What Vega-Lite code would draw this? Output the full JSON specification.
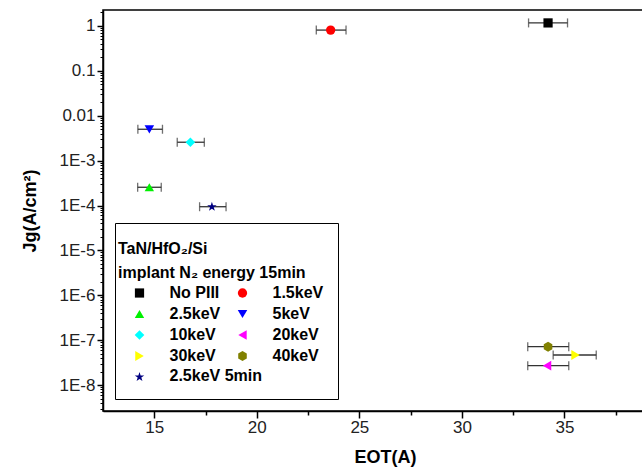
{
  "$schema": "https://vega.github.io/schema/vega-lite/v6.json",
  "width": 564,
  "height": 401,
  "autosize": {"type": "none"},
  "padding": {"left": 103, "top": 10, "right": 0, "bottom": 58},
  "background": "white",
  "title": {
    "text": ["TaN/HfO₂/Si", "implant N₂ energy 15min"],
    "orient": "top", "anchor": "start", "frame": "group", "align": "left", "baseline": "top",
    "offset": 0, "dx": 15, "dy": 271, "lineHeight": 24,
    "font": "Liberation Sans", "fontSize": 16, "fontWeight": "bold", "color": "black", "zindex": 1
  },
  "config": {
    "font": "Liberation Sans",
    "view": {"stroke": "black", "strokeWidth": 1.5},
    "axis": {"grid": false},
    "legend": {
      "orient": "none", "direction": "horizontal",
      "labelFontSize": 16, "labelFontWeight": "bold", "labelColor": "black",
      "titleFontSize": 16, "titleFontWeight": "bold", "titleColor": "black",
      "titleOrient": "top", "titleAnchor": "start",
      "titleLineHeight": 24, "titleLimit": 400, "titleBaseline": "line-top"
    }
  },
  "data": {
    "values": [
      {"series": "No PIII", "EOT": 34.2, "lo": 33.25, "hi": 35.15, "Jg": 1.17},
      {"series": "1.5keV", "EOT": 23.6, "lo": 22.9, "hi": 24.35, "Jg": 0.81},
      {"series": "2.5keV", "EOT": 14.76, "lo": 14.19, "hi": 15.34, "Jg": 0.000255},
      {"series": "5keV", "EOT": 14.76, "lo": 14.2, "hi": 15.4, "Jg": 0.0050},
      {"series": "10keV", "EOT": 16.76, "lo": 16.12, "hi": 17.44, "Jg": 0.00257},
      {"series": "20keV", "EOT": 34.15, "lo": 33.21, "hi": 35.21, "Jg": 2.7e-8},
      {"series": "30keV", "EOT": 35.54, "lo": 34.45, "hi": 36.55, "Jg": 4.67e-8},
      {"series": "40keV", "EOT": 34.2, "lo": 33.21, "hi": 35.21, "Jg": 7.15e-8},
      {"series": "2.5keV 5min", "EOT": 17.81, "lo": 17.21, "hi": 18.5, "Jg": 9.4e-5}
    ]
  },
  "layer": [
    {
      "mark": {"type": "rule", "color": "#333333", "strokeWidth": 1.3},
      "encoding": {
        "x": {
          "field": "lo", "type": "quantitative",
          "scale": {"domain": [12.5, 40], "nice": false, "zero": false},
          "axis": {
            "orient": "bottom", "values": [15, 20, 25, 30, 35],
            "title": "EOT(A)", "titleFontSize": 18, "titleFontWeight": "bold", "titleColor": "black", "titlePadding": 13,
            "labelFontSize": 17, "labelColor": "#222222", "labelPadding": 1, "labelFlush": false,
            "tickSize": 7, "tickWidth": 1.5, "tickColor": "black",
            "domainColor": "black", "domainWidth": 1.5
          }
        },
        "x2": {"field": "hi"},
        "y": {
          "field": "Jg", "type": "quantitative",
          "scale": {"type": "log", "domain": [2.64e-9, 2.27], "nice": false},
          "axis": {
            "orient": "left", "values": [1, 0.1, 0.01, 0.001, 0.0001, 1e-5, 1e-6, 1e-7, 1e-8],
            "labelExpr": "datum.value >= 0.005 ? (datum.value >= 0.5 ? '1' : (datum.value >= 0.05 ? '0.1' : '0.01')) : '1E-' + round(-log(datum.value)/LN10)",
            "title": "Jg(A/cm²)", "titleFontSize": 18, "titleFontWeight": "bold", "titleColor": "black", "titlePadding": 20,
            "labelFontSize": 17, "labelColor": "#222222", "labelPadding": 2, "labelFlush": false,
            "tickSize": 6, "tickWidth": 1.5, "tickColor": "black",
            "domainColor": "black", "domainWidth": 1.5
          }
        }
      }
    },
    {
      "mark": {"type": "tick", "orient": "vertical", "color": "#333333", "thickness": 1.3, "size": 9},
      "encoding": {
        "x": {"field": "lo", "type": "quantitative", "axis": null},
        "y": {"field": "Jg", "type": "quantitative", "axis": null}
      }
    },
    {
      "mark": {"type": "tick", "orient": "vertical", "color": "#333333", "thickness": 1.3, "size": 9},
      "encoding": {
        "x": {"field": "hi", "type": "quantitative", "axis": null},
        "y": {"field": "Jg", "type": "quantitative", "axis": null}
      }
    },
    {
      "mark": {"type": "point", "filled": true, "opacity": 1, "strokeWidth": 0},
      "encoding": {
        "x": {"field": "EOT", "type": "quantitative", "axis": null},
        "y": {"field": "Jg", "type": "quantitative", "axis": null},
        "color": {
          "field": "series", "type": "nominal",
          "scale": {
            "domain": ["No PIII", "1.5keV", "2.5keV", "5keV", "10keV", "20keV", "30keV", "40keV", "2.5keV 5min"],
            "range": ["#000000", "#FF0000", "#00F000", "#0000FF", "#00FFFF", "#FF00FF", "#FFFF00", "#808000", "#000080"]
          },
          "legend": {
            "title": " ",
            "legendX": 12, "legendY": 213, "columns": 2, "columnPadding": 11, "rowPadding": 5,
            "padding": 14, "strokeColor": "black",
            "symbolOffset": 2.5, "labelOffset": 22, "titlePadding": 32,
            "labelExpr": "datum.label == '2.5keV 5min' ? '' : datum.label"
          }
        },
        "shape": {
          "field": "series", "type": "nominal",
          "scale": {
            "domain": ["No PIII", "1.5keV", "2.5keV", "5keV", "10keV", "20keV", "30keV", "40keV", "2.5keV 5min"],
            "range": ["square", "circle", "triangle-up", "triangle-down", "diamond", "triangle-left", "triangle-right",
              "M0,-1L0.866,-0.5L0.866,0.5L0,1L-0.866,0.5L-0.866,-0.5Z",
              "M0,-1L0.225,-0.309L0.951,-0.309L0.363,0.118L0.588,0.809L0,0.382L-0.588,0.809L-0.363,0.118L-0.951,-0.309L-0.225,-0.309Z"]
          },
          "legend": {
            "title": " ",
            "legendX": 12, "legendY": 213, "columns": 2, "columnPadding": 11, "rowPadding": 5,
            "padding": 14, "strokeColor": "black",
            "symbolOffset": 2.5, "labelOffset": 22, "titlePadding": 32,
            "labelExpr": "datum.label == '2.5keV 5min' ? '' : datum.label"
          }
        },
        "size": {
          "field": "series", "type": "nominal",
          "scale": {
            "domain": ["No PIII", "1.5keV", "2.5keV", "5keV", "10keV", "20keV", "30keV", "40keV", "2.5keV 5min"],
            "range": [85, 100, 160, 160, 150, 160, 160, 130, 110]
          },
          "legend": {
            "title": " ",
            "legendX": 12, "legendY": 213, "columns": 2, "columnPadding": 11, "rowPadding": 5,
            "padding": 14, "strokeColor": "black",
            "symbolOffset": 2.5, "labelOffset": 22, "titlePadding": 32,
            "labelExpr": "datum.label == '2.5keV 5min' ? '' : datum.label"
          }
        }
      }
    },
    {
      "transform": [{"filter": "datum.series == '2.5keV 5min'"}],
      "mark": {"type": "point", "filled": true, "size": 10, "opacity": 0},
      "encoding": {
        "x": {"field": "EOT", "type": "quantitative", "axis": null},
        "y": {"field": "Jg", "type": "quantitative", "axis": null},
        "fill": {
          "field": "series", "type": "nominal",
          "scale": {"range": ["#000080"]},
          "legend": {
            "title": null, "legendX": 12, "legendY": 344, "padding": 14,
            "symbolOffset": 2.5, "labelOffset": 22, "symbolSize": 160, "symbolOpacity": 0
          }
        }
      }
    },
    {
      "mark": {"type": "point", "opacity": 0},
      "encoding": {
        "x": {
          "field": "EOT", "type": "quantitative",
          "axis": {"orient": "bottom", "values": [17.5, 22.5, 27.5, 32.5, 37.5], "labels": false, "domain": false, "title": null, "tickSize": 4, "tickWidth": 1.5, "tickColor": "black"}
        },
        "y": {
          "field": "Jg", "type": "quantitative",
          "axis": {
            "orient": "left",
            "values": [3e-9, 4e-9, 5e-9, 6e-9, 7e-9, 8e-9, 9e-9,
              2e-8, 3e-8, 4e-8, 5e-8, 6e-8, 7e-8, 8e-8, 9e-8,
              2e-7, 3e-7, 4e-7, 5e-7, 6e-7, 7e-7, 8e-7, 9e-7,
              2e-6, 3e-6, 4e-6, 5e-6, 6e-6, 7e-6, 8e-6, 9e-6,
              2e-5, 3e-5, 4e-5, 5e-5, 6e-5, 7e-5, 8e-5, 9e-5,
              0.0002, 0.0003, 0.0004, 0.0005, 0.0006, 0.0007, 0.0008, 0.0009,
              0.002, 0.003, 0.004, 0.005, 0.006, 0.007, 0.008, 0.009,
              0.02, 0.03, 0.04, 0.05, 0.06, 0.07, 0.08, 0.09,
              0.2, 0.3, 0.4, 0.5, 0.6, 0.7, 0.8, 0.9, 2],
            "labels": false, "domain": false, "title": null, "tickSize": 3, "tickWidth": 1, "tickColor": "black"
          }
        }
      }
    }
  ],
  "resolve": {"axis": {"x": "independent", "y": "independent"}}
}
